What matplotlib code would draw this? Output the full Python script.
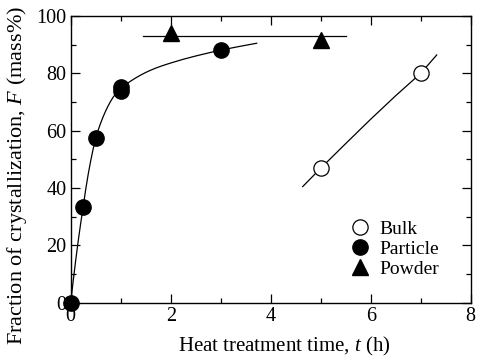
import matplotlib.pyplot as plt
from matplotlib.ticker import MultipleLocator

plt.rcParams['font.family'] = ['Liberation Serif', 'DejaVu Serif']
plt.rcParams['mathtext.fontset'] = 'custom'
plt.rcParams['mathtext.rm'] = 'Liberation Serif'
plt.rcParams['mathtext.it'] = 'Liberation Serif:italic'

# Bulk samples
bulk_t = [5.0, 7.0]
bulk_F = [46.9, 80.0]
bulk_line_t = [4.64, 5.0, 5.5, 6.0, 6.5, 7.0, 7.32]
bulk_line_F = [40.5, 46.9, 55.5, 64.0, 72.2, 80.0, 86.4]

# Particle samples
particle_t = [0.0, 0.25, 0.5, 1.0, 1.0, 3.0]
particle_F = [0.0, 33.5, 57.3, 74.0, 75.3, 88.1]
# fitted curve
particle_curve_t = [0.0, 0.05, 0.1, 0.15, 0.2, 0.25, 0.3, 0.35, 0.4, 0.45, 0.5,
                    0.55, 0.6, 0.65, 0.7, 0.75, 0.8, 0.85, 0.9, 0.95, 1.0,
                    1.1, 1.2, 1.3, 1.4, 1.5, 1.6, 1.7, 1.8, 1.9, 2.0,
                    2.25, 2.5, 2.75, 3.0, 3.35, 3.72]
particle_curve_F = [0.0, 7.6, 14.8, 21.5, 27.7, 33.5, 39.5, 44.8, 49.5, 53.7, 57.3,
                    60.2, 62.7, 64.9, 66.9, 68.7, 70.3, 71.7, 72.9, 73.85, 74.6,
                    76.05, 77.3, 78.4, 79.4, 80.3, 81.1, 81.82, 82.46, 83.05, 83.6,
                    84.9, 86.05, 87.1, 88.1, 89.3, 90.5]

# Powder samples
powder_t = [2.0, 5.0]
powder_F = [94.0, 91.5]
powder_line_t = [1.45, 5.5]
powder_line_F = [93.0, 93.0]

fig = plt.figure(figsize=(4.8, 3.62), dpi=100)
ax = fig.add_axes([70.7 / 480, 1 - 302.7 / 362, 400 / 480, (302.7 - 16) / 362])

# Fitted lines
ax.plot(bulk_line_t, bulk_line_F, '-', color='black', lw=0.9)
ax.plot(particle_curve_t, particle_curve_F, '-', color='black', lw=0.9)
ax.plot(powder_line_t, powder_line_F, '-', color='black', lw=0.9)

# Data points
ax.plot(bulk_t, bulk_F, 'o', ms=11, mfc='white', mec='black', mew=0.9,
        ls='none', label='Bulk', clip_on=False)
ax.plot(particle_t, particle_F, 'o', ms=11, mfc='black', mec='black',
        ls='none', label='Particle', clip_on=False)
ax.plot(powder_t, powder_F, '^', ms=11, mfc='black', mec='black',
        ls='none', label='Powder', clip_on=False)

ax.set_xlim(0, 8)
ax.set_ylim(0, 100)
ax.xaxis.set_major_locator(MultipleLocator(2))
ax.xaxis.set_minor_locator(MultipleLocator(1))
ax.yaxis.set_major_locator(MultipleLocator(20))
ax.yaxis.set_minor_locator(MultipleLocator(10))
ax.tick_params(which='both', direction='in', top=True, right=True, labelsize=14.5, width=0.9)
ax.tick_params(which='major', length=6.5, pad=3)
ax.tick_params(which='minor', length=3.5)
for s in ax.spines.values():
    s.set_linewidth(1.0)

ax.set_xlabel('Heat treatment time, $\\it{t}$ (h)', fontsize=15, va='center')
ax.set_ylabel('Fraction of crystallization, $\\it{F}$ (mass%)', fontsize=16, va='center')
ax.xaxis.set_label_coords(0.533, -0.152)
ax.yaxis.set_label_coords(-0.133, 0.445)

ax.legend(loc='lower left', bbox_to_anchor=(0.68, 0.06), frameon=False, fontsize=14,
          handlelength=1.0, handletextpad=0.5, labelspacing=0.12, borderaxespad=0)

fig.savefig('out.png', dpi=100)
